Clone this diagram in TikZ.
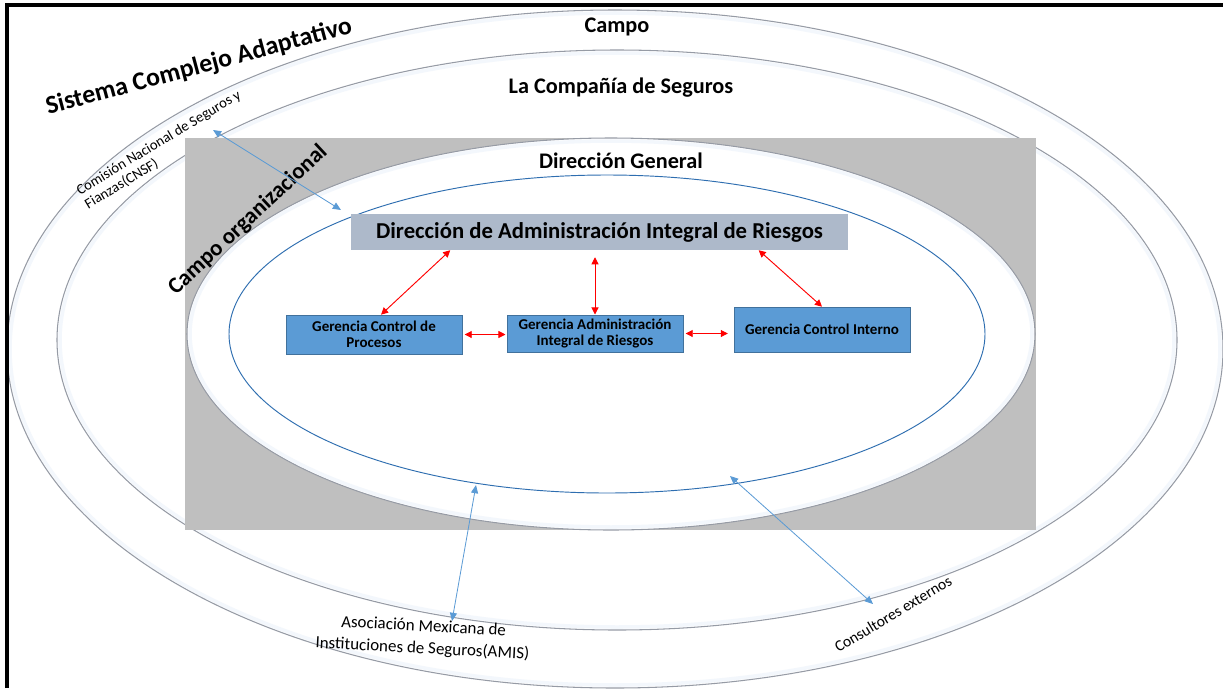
\documentclass[tikz,border=0pt]{standalone}
\usepackage{fontspec}
\setmainfont{Carlito}
\usetikzlibrary{arrows.meta,calc}
\definecolor{anillo}{RGB}{150,155,165}
\definecolor{halo}{RGB}{243,247,252}
\definecolor{fondo}{RGB}{191,191,191}
\definecolor{azulosc}{RGB}{46,110,176}
\definecolor{azulcaja}{RGB}{91,155,213}
\definecolor{bordecaja}{RGB}{65,113,156}
\definecolor{grisazul}{RGB}{173,185,202}
\definecolor{flecha}{RGB}{91,155,213}
\begin{document}
\begin{tikzpicture}[x=0.03cm,y=-0.03cm,
  ring/.style={draw=anillo,line width=0.9pt},
  glow/.style={draw=halo,line width=3pt},
  gerencia/.style={draw=bordecaja,fill=azulcaja,line width=0.6pt,minimum width=5.28cm,align=center,font=\bfseries\fontsize{12.8}{14}\selectfont},
  titulo/.style={font=\bfseries\fontsize{19}{22}\selectfont},
  rojo/.style={red,line width=0.8pt,{Triangle[length=6pt,width=6pt]}-{Triangle[length=6pt,width=6pt]}},
  azul/.style={flecha,line width=0.7pt,{Triangle[length=7pt,width=6pt]}-{Triangle[length=7pt,width=6pt]}}]
\useasboundingbox (0,0) rectangle (1223,688);
\fill[white] (0,0) rectangle (1223,688);
\draw[glow] (615,349) ellipse (605 and 336);
\draw[ring] (615,349) ellipse (608 and 339);
\draw[ring,fill=white] (617,340) ellipse (560 and 290);
\draw[glow] (617,340) ellipse (557 and 287);
\fill[fondo] (185,138) rectangle (1036,530);
\draw[ring,fill=white] (611,334) ellipse (424 and 196);
\draw[glow] (611,334) ellipse (421 and 193);
\draw[azulosc,line width=0.8pt] (607,334) ellipse (378 and 159);
\draw[line width=3pt] (7,688) -- (7,5) -- (1223,5);
\node[titulo] (campo) at (617,27) {Campo};
\node[titulo] (cia) at (621,88) {La Compañía de Seguros};
\node[titulo] (dg) at (621,161) {Dirección General};
\node[font=\bfseries\fontsize{22}{24}\selectfont,rotate=15] (sca) at (199,67) {Sistema Complejo Adaptativo};
\node[font=\fontsize{12.5}{14}\selectfont,rotate=31,align=left] (cnsf) at (163,150) {Comisión Nacional de Seguros y\\Fianzas(CNSF)};
\node[font=\bfseries\fontsize{19.5}{22}\selectfont,rotate=43] (corg) at (248,220) {Campo organizacional};
\node[font=\fontsize{14.5}{19}\selectfont,rotate=-3,align=center] (amis) at (423,638) {Asociación Mexicana de\\Instituciones de Seguros(AMIS)};
\node[font=\fontsize{13.3}{14}\selectfont,rotate=31] (cons) at (893,614) {Consultores externos};
\node[fill=grisazul,minimum width=14.91cm,minimum height=1.08cm,font=\bfseries\fontsize{19.4}{22}\selectfont] (dair) at (599.5,232) {Dirección de Administración Integral de Riesgos};
\node[gerencia,minimum height=1.17cm] (gcp) at (374,334.5) {Gerencia Control de\\Procesos};
\node[gerencia,minimum height=1.11cm] (gair) at (595,333.5) {Gerencia Administración\\Integral de Riesgos};
\node[gerencia,minimum height=1.35cm] (gci) at (822,329.5) {Gerencia Control Interno};
\draw[rojo] ($(dair.south west)!0.2!(dair.south east)$) -- ($(gcp.north west)!0.54!(gcp.north east)$);
\draw[rojo] ($(gair.north |- dair.south)+(0,7)$) -- (gair.north);
\draw[rojo] ($(dair.south west)!0.82!(dair.south east)$) -- (gci.north);
\draw[rojo,shorten <=2pt,shorten >=1pt] (gcp.east) -- (gcp.east -| gair.west);
\draw[rojo,shorten <=2pt,shorten >=5pt] (gair.east) -- (gair.east -| gci.west);
\coordinate (pcnsf) at (213,130);
\coordinate (pazul1) at (341,210);
\coordinate (pazul2) at (476,485);
\coordinate (pamis) at (452,621);
\coordinate (pazul3) at (730,476);
\coordinate (pcons) at (873,604);
\draw[azul] (pcnsf) -- (pazul1);
\draw[azul] (pazul2) -- (pamis);
\draw[azul] (pazul3) -- (pcons);
\end{tikzpicture}
\end{document}
